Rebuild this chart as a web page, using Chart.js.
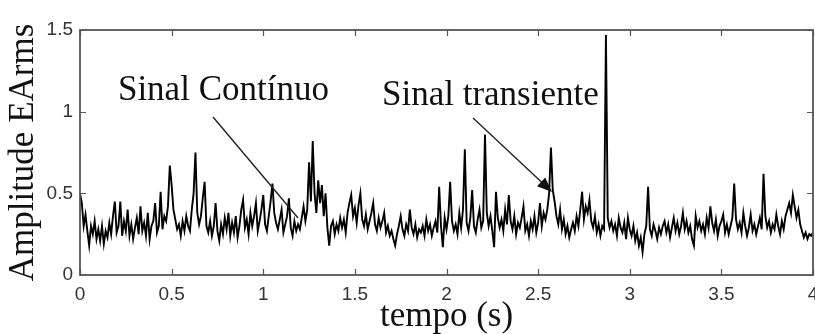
<!DOCTYPE html>
<html><head><meta charset="utf-8">
<script src="https://cdn.jsdelivr.net/npm/chart.js@4.4.1/dist/chart.umd.min.js"></script>
<style>html,body{margin:0;padding:0;background:#fff;overflow:hidden}</style>
</head><body>
<canvas id="c" width="815" height="334"></canvas>
<script>
// ---- data ----
const timeStep = 0.01; // s, sampling interval of the EA rms signal
const amp0to1 = [
0.50,0.44,0.30,0.37,0.27,0.18,0.30,0.25,0.33,0.22,
0.28,0.21,0.30,0.19,0.27,0.23,0.32,0.25,0.36,0.45,
0.26,0.30,0.45,0.24,0.33,0.27,0.40,0.24,0.31,0.22,
0.29,0.35,0.25,0.42,0.27,0.32,0.24,0.38,0.22,0.30,
0.33,0.44,0.26,0.30,0.51,0.28,0.36,0.33,0.42,0.67,
0.55,0.40,0.34,0.28,0.31,0.24,0.33,0.27,0.36,0.30,
0.27,0.40,0.50,0.75,0.38,0.31,0.36,0.47,0.57,0.30,
0.26,0.33,0.24,0.30,0.44,0.27,0.21,0.31,0.25,0.35,
0.28,0.38,0.24,0.32,0.26,0.36,0.23,0.30,0.40,0.46,
0.29,0.34,0.25,0.38,0.30,0.36,0.44,0.27,0.33,0.40];
const amp1to2 = [
0.49,0.31,0.27,0.36,0.45,0.56,0.38,0.32,0.28,0.34,
0.40,0.26,0.31,0.36,0.47,0.29,0.24,0.33,0.27,0.31,
0.28,0.35,0.42,0.33,0.40,0.69,0.45,0.82,0.50,0.38,
0.58,0.44,0.55,0.36,0.50,0.29,0.18,0.30,0.33,0.25,
0.31,0.27,0.35,0.29,0.34,0.26,0.38,0.44,0.49,0.36,
0.41,0.32,0.43,0.50,0.34,0.30,0.37,0.28,0.33,0.38,
0.44,0.31,0.27,0.35,0.29,0.33,0.38,0.26,0.30,0.24,
0.27,0.22,0.18,0.25,0.30,0.36,0.28,0.24,0.31,0.27,
0.40,0.29,0.25,0.31,0.23,0.28,0.26,0.30,0.24,0.34,
0.27,0.31,0.24,0.29,0.33,0.26,0.54,0.30,0.17,0.35];
const amp2to3 = [
0.28,0.36,0.57,0.33,0.27,0.31,0.25,0.38,0.29,0.40,
0.77,0.32,0.27,0.35,0.52,0.30,0.26,0.34,0.40,0.29,
0.33,0.86,0.38,0.30,0.36,0.27,0.17,0.51,0.35,0.29,
0.34,0.27,0.40,0.31,0.49,0.33,0.28,0.36,0.25,0.32,
0.29,0.35,0.42,0.27,0.31,0.24,0.33,0.28,0.36,0.26,
0.32,0.44,0.30,0.38,0.34,0.40,0.50,0.78,0.52,0.45,
0.36,0.31,0.40,0.28,0.34,0.25,0.30,0.23,0.28,0.32,
0.27,0.36,0.30,0.40,0.51,0.34,0.42,0.38,0.46,0.33,
0.29,0.36,0.26,0.31,0.24,0.30,0.28,1.47,0.35,0.29,
0.33,0.27,0.31,0.24,0.35,0.29,0.26,0.32,0.22,0.35];
const amp3to4 = [
0.28,0.24,0.30,0.21,0.26,0.18,0.23,0.14,0.25,0.30,
0.54,0.28,0.24,0.31,0.27,0.22,0.29,0.25,0.30,0.33,
0.26,0.31,0.23,0.29,0.35,0.27,0.32,0.25,0.30,0.38,
0.28,0.33,0.26,0.30,0.22,0.18,0.36,0.29,0.33,0.27,
0.31,0.25,0.35,0.29,0.42,0.32,0.27,0.34,0.24,0.30,
0.33,0.37,0.26,0.31,0.25,0.30,0.35,0.56,0.34,0.28,
0.32,0.26,0.38,0.30,0.24,0.29,0.37,0.27,0.31,0.25,
0.30,0.35,0.28,0.62,0.36,0.29,0.33,0.26,0.31,0.28,
0.37,0.30,0.25,0.33,0.28,0.36,0.40,0.44,0.38,0.49,
0.42,0.35,0.40,0.31,0.27,0.23,0.26,0.22,0.25,0.24,
0.26];
const xTickLabels = ['0','0.5','1','1.5','2','2.5','3','3.5','4'];
const yTickLabels = ['0','0.5','1','1.5'];
const xTitle = 'tempo (s)';
const yTitle = 'Amplitude EArms';
// annotations in data units (tempo, amplitude)
const notes = [
  {text:'Sinal Contínuo',   textAt:[0.207,1.072], from:[0.726,0.967], to:[1.19,0.349],  head:false},
  {text:'Sinal transiente', textAt:[1.648,1.041], from:[2.145,0.961], to:[2.576,0.508], head:true}
];

// ---- build ----
const amps = [].concat(amp0to1, amp1to2, amp2to3, amp3to4);
const points = amps.map((v,i)=>({x: +(i*timeStep).toFixed(2), y: v}));

const boxPlugin = {
  id:'boxTicks',
  afterDraw(chart){
    const {ctx, chartArea:a, scales:{x,y}} = chart;
    ctx.save();
    ctx.strokeStyle = '#555'; ctx.lineWidth = 1.8;
    ctx.strokeRect(a.left, a.top, a.right-a.left, a.bottom-a.top);
    const tl = 6;
    ctx.beginPath();
    x.ticks.forEach(t=>{
      const px = Math.round(x.getPixelForValue(t.value))+0.5;
      ctx.moveTo(px,a.bottom); ctx.lineTo(px,a.bottom-tl);
      ctx.moveTo(px,a.top); ctx.lineTo(px,a.top+tl);
    });
    y.ticks.forEach(t=>{
      const py = Math.round(y.getPixelForValue(t.value))+0.5;
      ctx.moveTo(a.left,py); ctx.lineTo(a.left+tl,py);
      ctx.moveTo(a.right,py); ctx.lineTo(a.right-tl,py);
    });
    ctx.lineWidth = 1.2; ctx.stroke();
    // annotations
    ctx.fillStyle = '#111'; ctx.strokeStyle = '#222';
    ctx.font = '35px "Liberation Serif", "Times New Roman", serif';
    ctx.textBaseline = 'alphabetic'; ctx.textAlign = 'left';
    notes.forEach(n=>{
      ctx.fillText(n.text, x.getPixelForValue(n.textAt[0]), y.getPixelForValue(n.textAt[1]));
      const x1 = x.getPixelForValue(n.from[0]), y1 = y.getPixelForValue(n.from[1]);
      const x2 = x.getPixelForValue(n.to[0]),   y2 = y.getPixelForValue(n.to[1]);
      const ang = Math.atan2(y2-y1, x2-x1);
      const hl = n.head ? 15 : 0;
      ctx.beginPath(); ctx.lineWidth = 1.4;
      ctx.moveTo(x1,y1); ctx.lineTo(x2-hl*Math.cos(ang)*0.8, y2-hl*Math.sin(ang)*0.8); ctx.stroke();
      if(n.head){
        const hw = 6;
        const bx = x2-hl*Math.cos(ang), by = y2-hl*Math.sin(ang);
        ctx.beginPath();
        ctx.moveTo(x2,y2);
        ctx.lineTo(bx+hw*Math.sin(ang), by-hw*Math.cos(ang));
        ctx.lineTo(bx-hw*Math.sin(ang), by+hw*Math.cos(ang));
        ctx.closePath(); ctx.fill();
      }
    });
    ctx.restore();
  }
};

new Chart(document.getElementById('c'), {
  type:'line',
  data:{datasets:[{data:points, borderColor:'#000', borderWidth:1.9, pointRadius:0, tension:0, fill:false}]},
  options:{
    responsive:false, animation:false, devicePixelRatio:1,
    layout:{padding:{top:30,right:2,left:0,bottom:0}},
    plugins:{legend:{display:false}, tooltip:{enabled:false}},
    scales:{
      x:{type:'linear', min:0, max:4,
        grid:{display:false, drawTicks:false}, border:{display:false},
        ticks:{stepSize:0.5, padding:8, color:'#333', autoSkip:false, maxRotation:0,
          font:{family:'"Liberation Sans", Arial, sans-serif', size:19},
          callback:(v,i)=>xTickLabels[i]},
        title:{display:true, text:xTitle, color:'#111', padding:{top:0,bottom:0},
          font:{family:'"Liberation Serif", "Times New Roman", serif', size:35, lineHeight:1}},
        afterFit:(s)=>{s.height=59; s.paddingLeft=0; s.paddingRight=0;}
      },
      y:{type:'linear', min:0, max:1.5,
        grid:{display:false, drawTicks:false}, border:{display:false},
        ticks:{stepSize:0.5, padding:7, color:'#333',
          font:{family:'"Liberation Sans", Arial, sans-serif', size:19},
          callback:(v,i)=>yTickLabels[i]},
        title:{display:true, text:yTitle, color:'#111', padding:{top:6,bottom:0},
          font:{family:'"Liberation Serif", "Times New Roman", serif', size:35, lineHeight:1}},
        afterFit:(s)=>{s.width=80; s.paddingTop=0; s.paddingBottom=0;}
      }
    }
  },
  plugins:[boxPlugin]
});
</script>
</body></html>
